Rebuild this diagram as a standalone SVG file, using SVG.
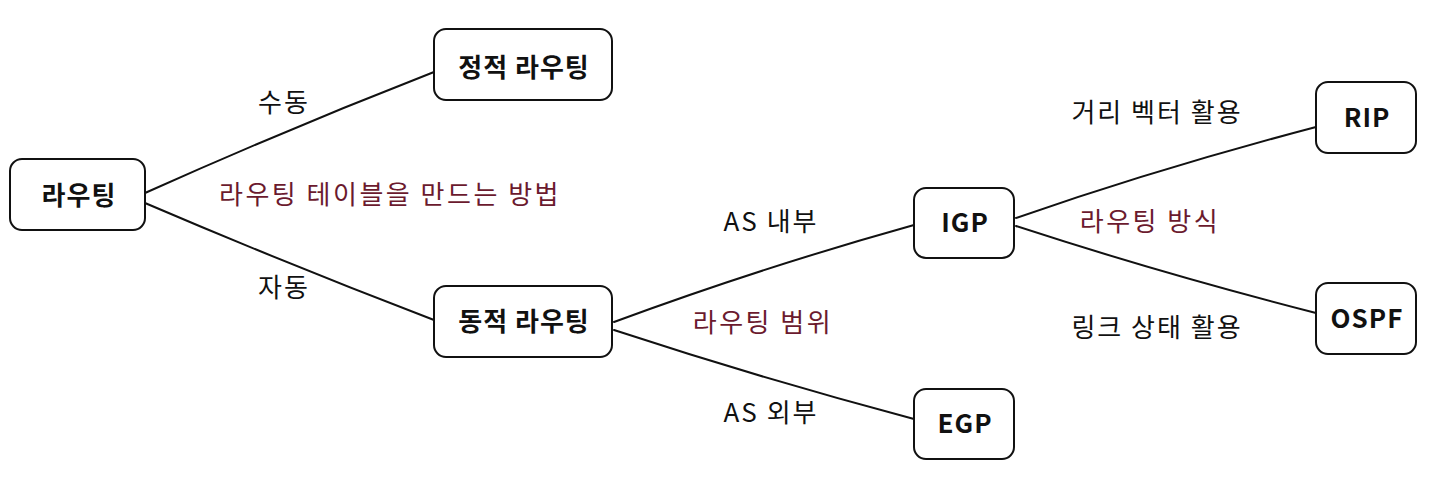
<svg xmlns="http://www.w3.org/2000/svg" width="1440" height="480" viewBox="0 0 1440 480">
<style>
.box{fill:#fff;stroke:#111;stroke-width:2}
.edge{fill:none;stroke:#111;stroke-width:2;stroke-linecap:round}
.nt{font-family:"Noto Sans CJK KR","Noto Sans",sans-serif;font-weight:700;font-size:26px;fill:#111;text-anchor:middle;letter-spacing:1px}
.lb{font-family:"Noto Sans CJK KR","Noto Sans",sans-serif;font-size:26px;fill:#111;text-anchor:middle;letter-spacing:2px}
.rd{font-family:"Noto Sans CJK KR","Noto Sans",sans-serif;font-size:26px;fill:#6b1a2e;text-anchor:middle;letter-spacing:2.5px}
</style>
<rect width="1440" height="480" fill="#fff"/>
<g id="connectors">
<path class="edge" d="M145,193 Q290,128 434,72"/>
<path class="edge" d="M145,203 Q290,265 434,320"/>
<path class="edge" d="M614,322 Q760,268 914,225"/>
<path class="edge" d="M614,330 Q760,378 914,419"/>
<path class="edge" d="M1016,218 Q1160,168 1316,127"/>
<path class="edge" d="M1016,226 Q1160,273 1316,313"/>
</g>
<g id="labels">
<text class="lb" x="284" y="112">수동</text>
<text class="lb" x="284" y="297">자동</text>
<text class="rd" x="390" y="204">라우팅 테이블을 만드는 방법</text>
<text class="lb" x="771" y="231">AS 내부</text>
<text class="lb" x="771" y="422">AS 외부</text>
<text class="rd" x="763" y="332">라우팅 범위</text>
<text class="lb" x="1157" y="122">거리 벡터 활용</text>
<text class="rd" x="1150" y="231">라우팅 방식</text>
<text class="lb" x="1157" y="337">링크 상태 활용</text>
</g>
<g id="node-routing">
<rect class="box" x="10" y="159" width="135" height="71" rx="12"/>
<text class="nt" x="79" y="205">라우팅</text>
</g>
<g id="node-static">
<rect class="box" x="434" y="29" width="178" height="71" rx="12"/>
<text class="nt" x="524" y="77">정적 라우팅</text>
</g>
<g id="node-dynamic">
<rect class="box" x="434" y="286" width="178" height="71" rx="12"/>
<text class="nt" x="524" y="331">동적 라우팅</text>
</g>
<g id="node-igp">
<rect class="box" x="914" y="188" width="100" height="70" rx="12"/>
<text class="nt" x="965" y="232">IGP</text>
</g>
<g id="node-egp">
<rect class="box" x="914" y="389" width="100" height="70" rx="12"/>
<text class="nt" x="965" y="433">EGP</text>
</g>
<g id="node-rip">
<rect class="box" x="1316" y="82" width="100" height="71" rx="12"/>
<text class="nt" x="1367" y="127">RIP</text>
</g>
<g id="node-ospf">
<rect class="box" x="1316" y="283" width="100" height="71" rx="12"/>
<text class="nt" x="1367" y="328">OSPF</text>
</g>
</svg>
